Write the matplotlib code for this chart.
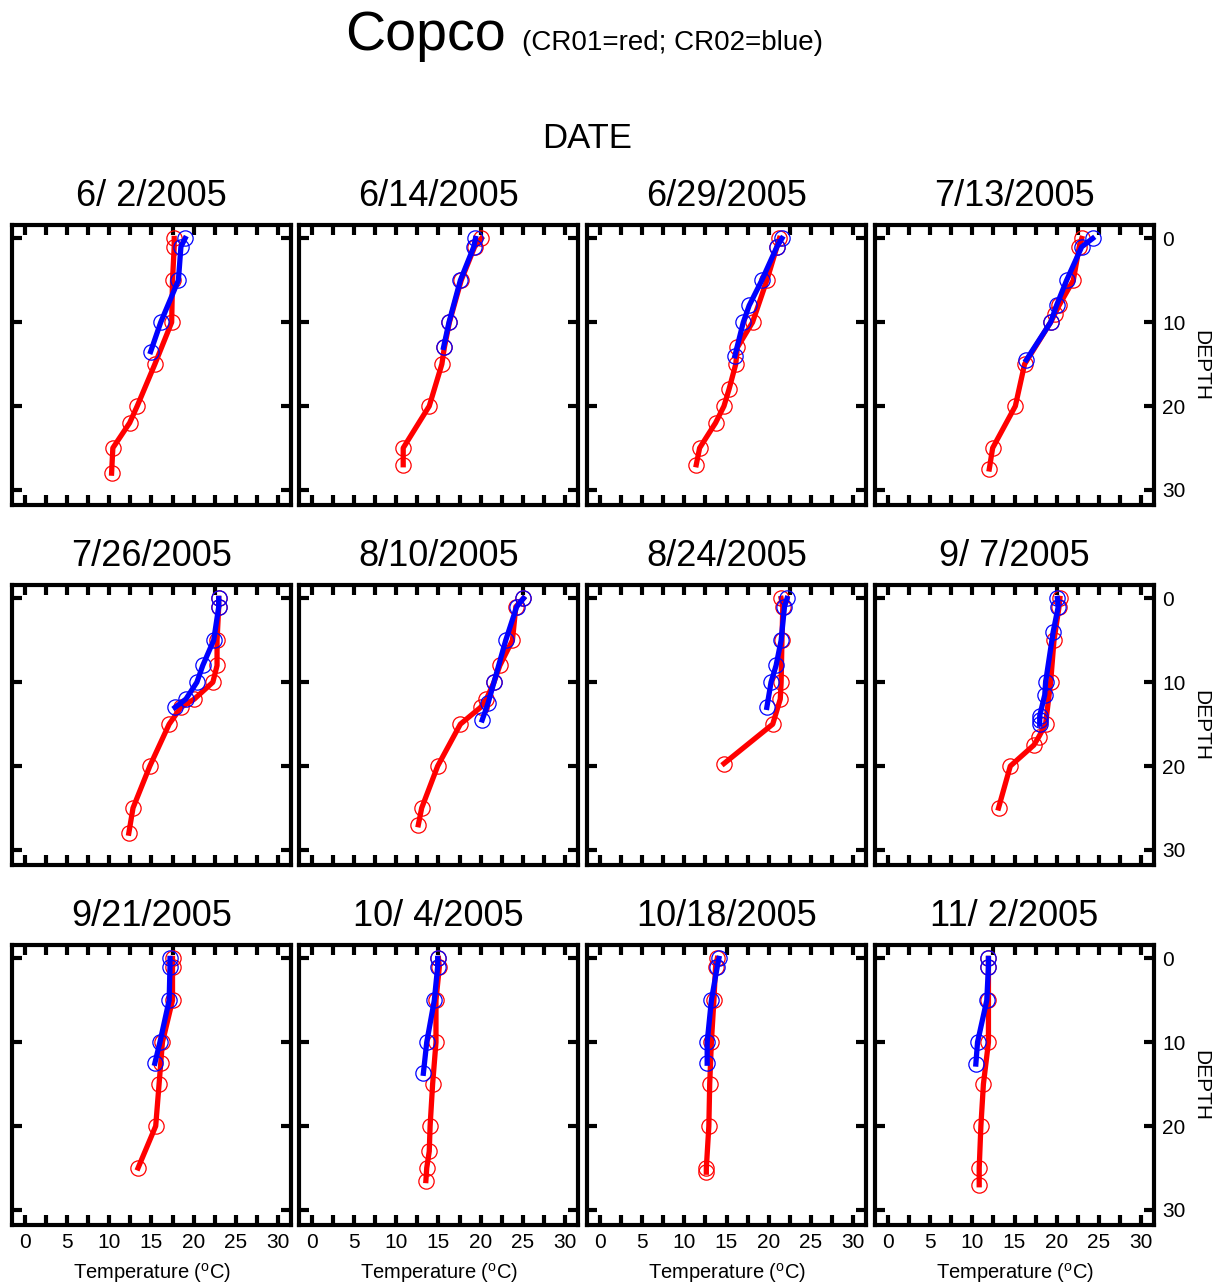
import matplotlib; matplotlib.use("Agg")
import matplotlib.pyplot as plt
import numpy as np

plt.rcParams["font.family"] = ["Liberation Sans", "DejaVu Sans"]
plt.rcParams["mathtext.fontset"] = "custom"
plt.rcParams["mathtext.rm"] = "Liberation Sans"

dates = ["6/ 2/2005", "6/14/2005", "6/29/2005", "7/13/2005",
         "7/26/2005", "8/10/2005", "8/24/2005", "9/ 7/2005",
         "9/21/2005", "10/ 4/2005", "10/18/2005", "11/ 2/2005"]

# CR01 (red) and CR02 (blue): depth (m) and temperature (C) per survey date
cr01_d_0602 = [0, 1, 5, 10, 15, 20, 22, 25, 28]
cr01_t_0602 = [17.7, 17.7, 17.5, 17.4, 15.4, 13.3, 12.4, 10.4, 10.25]
cr02_d_0602 = [0, 1, 5, 10, 13.5]
cr02_t_0602 = [19.0, 18.5, 18.2, 16.1, 14.9]

cr01_d_0614 = [0, 1, 5, 10, 13, 15, 20, 25, 27]
cr01_t_0614 = [20.1, 19.3, 17.7, 16.3, 15.7, 15.4, 13.9, 10.8, 10.8]
cr02_d_0614 = [0, 1, 5, 10, 13]
cr02_t_0614 = [19.4, 19.2, 17.6, 16.25, 15.6]

cr01_d_0629 = [0, 1, 5, 10, 13, 15, 18, 20, 22, 25, 27]
cr01_t_0629 = [21.3, 21.0, 19.8, 18.1, 16.3, 16.1, 15.3, 14.7, 13.7, 11.8, 11.4]
cr02_d_0629 = [0, 1, 5, 8, 10, 14]
cr02_t_0629 = [21.6, 21.0, 19.2, 17.7, 17.0, 16.0]

cr01_d_0713 = [0, 1, 5, 8, 9, 10, 15, 20, 25, 27.5]
cr01_t_0713 = [23.0, 22.7, 22.0, 20.3, 19.8, 19.3, 16.2, 15.1, 12.4, 12.0]
cr02_d_0713 = [0, 1, 5, 8, 10, 14.5]
cr02_t_0713 = [24.3, 23.0, 21.2, 20.0, 19.3, 16.4]

cr01_d_0726 = [0, 1, 5, 8, 10, 12, 13, 15, 20, 25, 28]
cr01_t_0726 = [23.0, 23.0, 22.8, 22.8, 22.3, 20.1, 18.5, 17.1, 14.8, 12.8, 12.3]
cr02_d_0726 = [0, 1, 5, 8, 10, 12, 13]
cr02_t_0726 = [23.0, 23.0, 22.4, 21.1, 20.4, 19.1, 17.8]

cr01_d_0810 = [0, 1, 5, 8, 10, 12, 13, 15, 20, 25, 27]
cr01_t_0810 = [25.1, 24.2, 23.8, 22.3, 21.6, 20.7, 20.0, 17.6, 14.9, 13.0, 12.6]
cr02_d_0810 = [0, 1, 5, 10, 12.5, 14.5]
cr02_t_0810 = [25.1, 24.3, 23.0, 21.6, 20.9, 20.2]

cr01_d_0824 = [0, 1, 5, 10, 12, 15, 19.7]
cr01_t_0824 = [21.5, 21.7, 21.6, 21.5, 21.4, 20.5, 14.7]
cr02_d_0824 = [0, 1, 5, 8, 10, 13]
cr02_t_0824 = [22.2, 21.9, 21.5, 20.9, 20.3, 19.8]

cr01_d_0907 = [0, 1, 5, 10, 15, 16.5, 17.5, 20, 25]
cr01_t_0907 = [20.4, 20.3, 19.7, 19.3, 18.7, 17.9, 17.3, 14.5, 13.1]
cr02_d_0907 = [0, 1, 4, 10, 11.5, 14, 14.5, 15]
cr02_t_0907 = [20.1, 20.2, 19.6, 18.7, 18.6, 18.0, 18.0, 18.0]

cr01_d_0921 = [0, 1, 5, 10, 12.5, 15, 20, 25]
cr01_t_0921 = [17.5, 17.5, 17.5, 16.3, 16.1, 15.9, 15.5, 13.4]
cr02_d_0921 = [0, 1, 5, 10, 12.5]
cr02_t_0921 = [17.2, 17.2, 17.1, 16.0, 15.4]

cr01_d_1004 = [0, 1, 5, 10, 15, 20, 23, 25, 26.5]
cr01_t_1004 = [15.0, 15.1, 14.7, 14.7, 14.3, 14.0, 13.9, 13.6, 13.5]
cr02_d_1004 = [0, 1, 5, 10, 13.7]
cr02_t_1004 = [14.9, 14.9, 14.5, 13.6, 13.2]

cr01_d_1018 = [0, 1, 5, 10, 15, 20, 25, 25.5]
cr01_t_1018 = [13.9, 13.7, 13.5, 13.2, 13.0, 12.9, 12.6, 12.6]
cr02_d_1018 = [0, 1, 5, 10, 12.5]
cr02_t_1018 = [14.1, 13.9, 13.2, 12.7, 12.7]

cr01_d_1102 = [0, 1, 5, 10, 15, 20, 25, 27]
cr01_t_1102 = [11.9, 11.9, 11.9, 11.9, 11.3, 11.0, 10.8, 10.8]
cr02_d_1102 = [0, 1, 5, 10, 12.6]
cr02_t_1102 = [11.9, 11.9, 11.7, 10.6, 10.4]

panels = [
    (cr01_t_0602, cr01_d_0602, cr02_t_0602, cr02_d_0602),
    (cr01_t_0614, cr01_d_0614, cr02_t_0614, cr02_d_0614),
    (cr01_t_0629, cr01_d_0629, cr02_t_0629, cr02_d_0629),
    (cr01_t_0713, cr01_d_0713, cr02_t_0713, cr02_d_0713),
    (cr01_t_0726, cr01_d_0726, cr02_t_0726, cr02_d_0726),
    (cr01_t_0810, cr01_d_0810, cr02_t_0810, cr02_d_0810),
    (cr01_t_0824, cr01_d_0824, cr02_t_0824, cr02_d_0824),
    (cr01_t_0907, cr01_d_0907, cr02_t_0907, cr02_d_0907),
    (cr01_t_0921, cr01_d_0921, cr02_t_0921, cr02_d_0921),
    (cr01_t_1004, cr01_d_1004, cr02_t_1004, cr02_d_1004),
    (cr01_t_1018, cr01_d_1018, cr02_t_1018, cr02_d_1018),
    (cr01_t_1102, cr01_d_1102, cr02_t_1102, cr02_d_1102),
]

W, H = 1221, 1285
fig = plt.figure(figsize=(W / 100, H / 100), dpi=100)

lefts = [12, 299, 587, 875]
tops = [225, 585, 945]
aw, ah = 279, 280

for i, (rt, rd, bt, bd) in enumerate(panels):
    r, c = divmod(i, 4)
    ax = fig.add_axes([lefts[c] / W, 1 - (tops[r] + ah) / H, aw / W, ah / H])
    style = dict(lw=3.8, marker="o", ms=11, mfc="none", mew=0.9)
    ax.plot(rt, rd, color="#ff0000", **style)
    ax.plot(bt, bd, color="#0000ff", **style)

    ax.set_xlim(-1.6, 31.6)
    ax.set_ylim(31.8, -1.6)
    ax.set_xticks(np.arange(0, 31, 5))
    ax.set_xticks(np.arange(2.5, 30, 5), minor=True)
    ax.set_yticks([0, 10, 20, 30])
    for s in ax.spines.values():
        s.set_linewidth(3)
    ax.tick_params(which="both", direction="in", top=True, right=True,
                   length=7.5, width=3, labelsize=15,
                   labelbottom=(r == 2), labelleft=False, labelright=(c == 3),
                   pad=6)
    ax.set_title(dates[i], fontsize=26, pad=14)
    if r == 2:
        ax.set_xlabel(r"Temperature ($^{\mathrm{o}}$C)", fontsize=14.5, labelpad=6)
    if c == 3:
        ax.yaxis.set_label_position("right")
        ax.set_ylabel("DEPTH", fontsize=15, rotation=270, labelpad=18)

fig.text(506 / W, 1 - 50 / H, "Copco", fontsize=40, ha="right", va="baseline")
fig.text(522 / W, 1 - 50 / H, "(CR01=red; CR02=blue)", fontsize=20,
         ha="left", va="baseline")
fig.text(587 / W, 1 - 148 / H, "DATE", fontsize=25, ha="center", va="baseline")

fig.savefig("out.png", dpi=100)
plt.close(fig)
